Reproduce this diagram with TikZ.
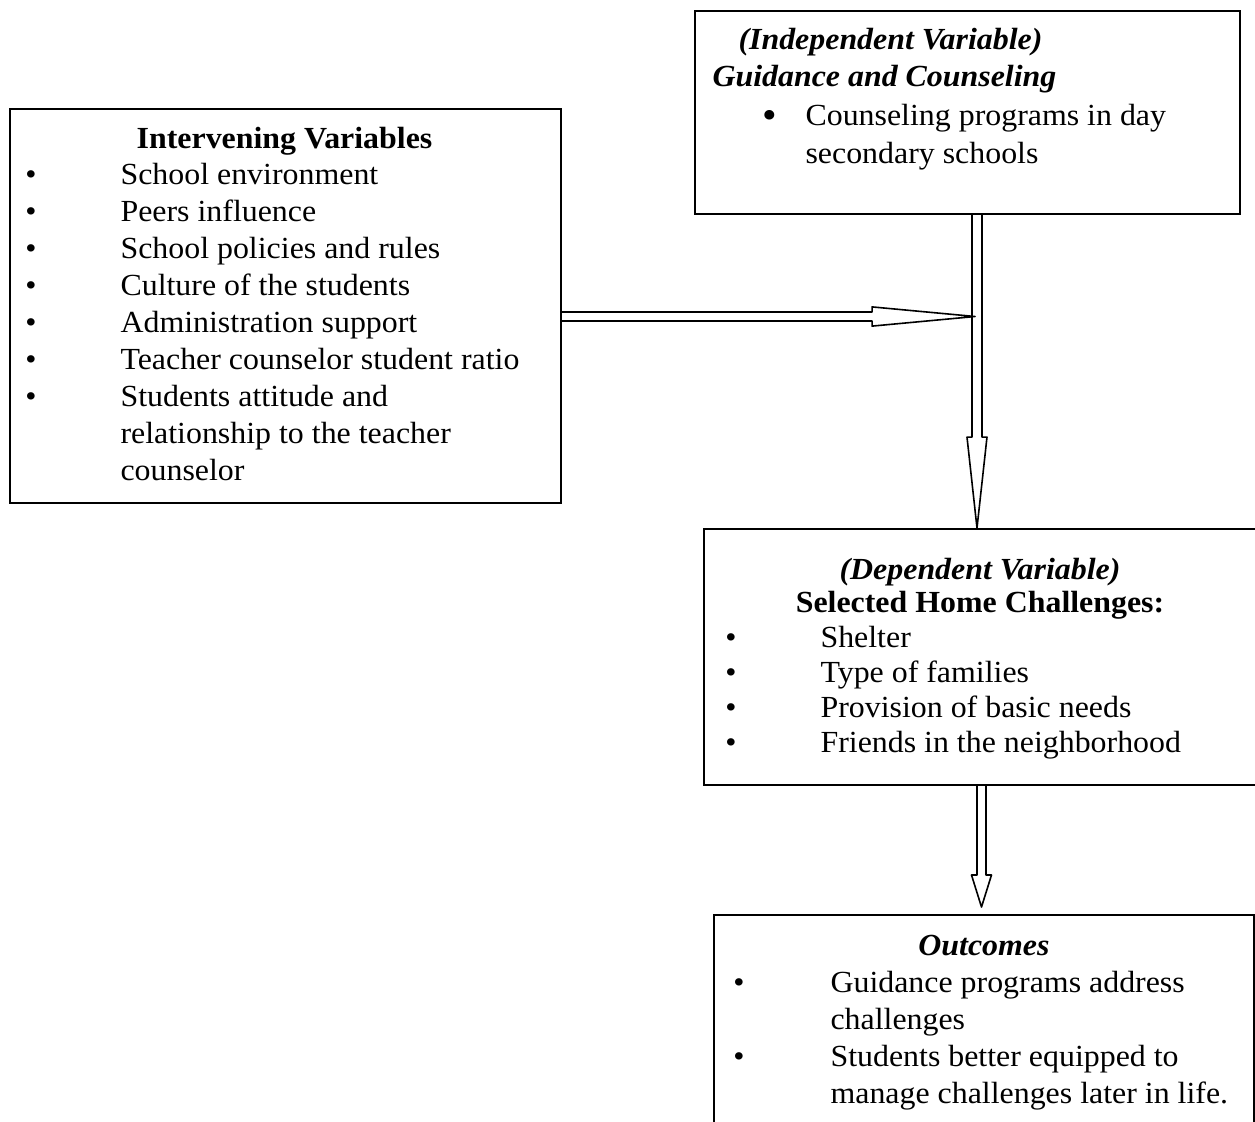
\documentclass[tikz,border=0pt]{standalone}
\usepackage{fontspec}
\setmainfont{Liberation Serif}[FakeStretch=1.04]
\usetikzlibrary{calc}
\newcommand{\hollowarrow}[5]{%
  \coordinate (ha-base) at ($(#2)!#4!(#1)$);
  \draw[arrowline] ($(#1)!#3!90:(#2)$) -- ($(ha-base)!#3!90:(#2)$) -- ($(ha-base)!#5!90:(#2)$) -- (#2)
    -- ($(ha-base)!#5!-90:(#2)$) -- ($(ha-base)!#3!-90:(#2)$) -- ($(#1)!#3!-90:(#2)$);
}

\begin{document}
\begin{tikzpicture}[x=0.375pt,y=-0.375pt,
        font=\fontsize{11.5}{13.9}\selectfont,
        box/.style={draw,line width=0.75pt,anchor=north west,inner sep=0},
        head/.style={anchor=base,inner sep=0},
        item/.style={anchor=base west,inner sep=0},
        dot/.style={anchor=base,inner sep=0},
        arrowline/.style={line width=0.6pt,line join=round}]
        \useasboundingbox (0,0) rectangle (1255,1122);
        \clip (0,0) rectangle (1255,1122);
        \node[box,minimum width=206.6pt,minimum height=147.75pt] (iv) at (9,108) {};
        \node[head] (iv-title) at (284.5,148) {\bfseries Intervening Variables};
        \node[dot] (iv-b1) at (31,184) {\textbullet};
        \node[dot] (iv-b2) at (31,221) {\textbullet};
        \node[dot] (iv-b3) at (31,258) {\textbullet};
        \node[dot] (iv-b4) at (31,295) {\textbullet};
        \node[dot] (iv-b5) at (31,332) {\textbullet};
        \node[dot] (iv-b6) at (31,369) {\textbullet};
        \node[dot] (iv-b7) at (31,406) {\textbullet};
        \node[item] (iv-t1) at (120,184) {School environment};
        \node[item] (iv-t2) at (120,221) {Peers influence};
        \node[item] (iv-t3) at (120,258) {School policies and rules};
        \node[item] (iv-t4) at (120,295) {Culture of the students};
        \node[item] (iv-t5) at (120,332) {Administration support};
        \node[item] (iv-t6) at (120,369) {Teacher counselor student ratio};
        \node[item] (iv-t7) at (120,406) {Students attitude and};
        \node[item] (iv-t8) at (120,443) {relationship to the teacher};
        \node[item] (iv-t9) at (120,480) {counselor};
        \node[box,minimum width=204.4pt,minimum height=76.1pt] (gc) at (694,10) {};
        \node[item] (gc-title) at (738,49) {\bfseries\itshape (Independent Variable)};
        \node[item] (gc-sub) at (712,86) {\bfseries\itshape Guidance and Counseling};
        \node[dot,font=\fontsize{15}{15}\selectfont] (gc-b1) at (770,128) {\textbullet};
        \node[item] (gc-t1) at (805,125) {Counseling programs in day};
        \node[item] (gc-t2) at (805,163) {secondary schools};
        \node[box,minimum width=210.75pt,minimum height=96pt] (hc) at (703,528) {};
        \node[head] (hc-title) at (980,579) {\bfseries\itshape (Dependent Variable)};
        \node[head] (hc-sub) at (980,612) {\bfseries Selected Home Challenges:};
        \node[dot] (hc-b1) at (731,647) {\textbullet};
        \node[dot] (hc-b2) at (731,682) {\textbullet};
        \node[dot] (hc-b3) at (731,717) {\textbullet};
        \node[dot] (hc-b4) at (731,752) {\textbullet};
        \node[item] (hc-t1) at (820,647) {Shelter};
        \node[item] (hc-t2) at (820,682) {Type of families};
        \node[item] (hc-t3) at (820,717) {Provision of basic needs};
        \node[item] (hc-t4) at (820,752) {Friends in the neighborhood};
        \node[box,minimum width=202.5pt,minimum height=82.9pt] (oc) at (713,914) {};
        \node[head] (oc-title) at (984,955) {\bfseries\itshape Outcomes};
        \node[dot] (oc-b1) at (739,992) {\textbullet};
        \node[dot] (oc-b2) at (739,1066) {\textbullet};
        \node[item] (oc-t1) at (830,992) {Guidance programs address};
        \node[item] (oc-t2) at (830,1029) {challenges};
        \node[item] (oc-t3) at (830,1066) {Students better equipped to};
        \node[item] (oc-t4) at (830,1103) {manage challenges later in life.};
        \coordinate (meet) at (975,316.5);
        \coordinate (drop) at (977,0);
        \coordinate (drop2) at (981.5,0);
        \coordinate (iv-out) at (iv.east |- meet);
        \coordinate (gc-out) at (gc.south -| drop);
        \coordinate (hc-in) at (hc.north -| drop);
        \coordinate (hc-out) at (hc.south -| drop2);
        \coordinate (oc-in) at ($(oc.north -| drop2)+(0,-7)$);
        \hollowarrow{iv-out}{meet}{1.7pt}{38.6pt}{3.6pt}
        \hollowarrow{gc-out}{hc-in}{1.875pt}{34.1pt}{3.75pt}
        \hollowarrow{hc-out}{oc-in}{1.7pt}{12pt}{3.75pt}
\end{tikzpicture}
\end{document}
